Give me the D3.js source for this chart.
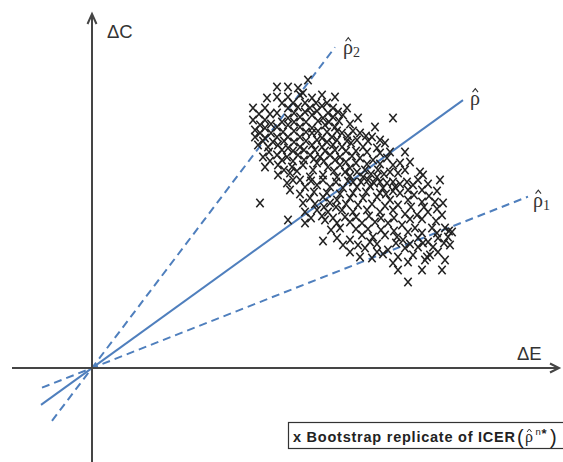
<!DOCTYPE html>
<html>
<head>
<meta charset="utf-8">
<script src="https://cdn.jsdelivr.net/npm/d3@7"></script>
<style>
  html, body { margin: 0; padding: 0; background: #fff; }
  svg { display: block; }
</style>
</head>
<body>
<script>
// Incremental effect (ΔE) of each bootstrap replicate, in plot units
const bootE = [
  216,185,196,206,175,185,196,208,220,230,243,211,
  161,173,185,196,206,218,241,255,230,
  161,173,196,208,220,231,241,251,266,301,
  163,173,185,196,208,220,233,243,283,
  163,173,185,196,208,220,230,240,250,256,268,280,
  166,176,186,196,208,220,230,241,250,259,271,285,293,298,313,
  171,185,195,206,218,228,238,248,260,268,281,295,308,318,
  173,186,200,211,225,236,248,258,273,286,298,306,328,
  186,198,218,231,245,258,271,285,331,348,
  261,276,288,301,315,326,
  195,208,213,225,238,251,265,278,291,303,
  288,301,316,330,345,
  198,208,218,231,245,258,271,285,298,316,330,343,351,
  168,211,238,
  213,225,236,250,261,275,288,301,313,325,336,350,
  196,213,233,245,258,270,283,296,310,323,340,353,360,248,
  231,245,258,270,281,293,305,311,326,336,346,356,
  258,266,273,285,285,296,313,326,338,346,358,
  268,291,301,316,335,306,330,350,316,
  190,201,213,224,235,
  167,178,202,213,225,236,246,
  168,179,190,202,214,226,237,247,258,
  168,179,191,202,214,226,235,245,261,274,
  171,181,192,202,214,225,235,245,255,265,276,288,
  177,190,201,212,223,233,243,254,264,275,288,
  178,190,201,212,222,232,243,254,264,275,288,301,
  192,205,221,242,253,265,279,292,313,
  201,219,231,244,256,269,282,295,308,321,336,
  222,235,248,261,274,294,308,322,337,
  223,232,244,254,266,280,293,306,319,332,345,
  219,230,241,253,264,277,289,302,318,330,344,
  239,264,276,289,302,316,330,345,357,
  251,278,304,318,331,341,352,
  280,306,321,333,353
];
// Incremental cost (ΔC) of each bootstrap replicate, same order
const bootC = [
  288,281,281,280,270,271,271,273,270,273,271,275,
  260,260,255,260,261,260,260,260,262,
  248,248,250,251,253,250,251,253,250,250,
  238,240,241,243,241,240,243,241,241,
  231,230,231,231,231,235,230,231,235,232,235,231,
  223,221,223,220,221,223,221,223,221,225,221,220,225,216,216,
  211,213,211,213,213,211,213,211,212,210,208,210,205,206,
  201,203,201,203,205,201,203,200,198,198,196,195,196,
  193,195,191,193,191,192,191,191,193,188,
  186,188,186,186,186,188,
  185,188,181,183,181,180,181,182,180,181,
  175,177,178,178,177,
  178,174,170,171,168,170,170,171,168,168,166,166,165,
  165,165,165,
  156,158,156,158,156,158,156,158,154,153,156,153,
  148,145,148,145,146,145,146,145,143,140,140,140,136,140,
  127,130,128,133,131,133,131,128,130,126,130,131,
  116,123,120,124,116,118,120,121,113,116,123,
  111,114,105,106,111,98,98,98,86,
  265,265,265,265,265,
  254,254,255,256,257,255,256,
  243,244,246,246,246,247,246,247,244,
  235,235,236,237,236,237,236,237,237,232,
  227,226,227,226,227,228,226,228,227,228,227,228,
  216,218,217,218,218,217,218,217,217,216,215,
  207,208,207,208,209,207,208,206,205,204,204,203,
  198,197,198,197,196,196,194,194,198,
  188,187,188,186,187,186,185,185,184,183,184,
  176,175,174,175,176,174,175,173,172,
  164,161,161,164,163,164,162,163,161,161,159,
  150,152,150,151,151,152,150,150,149,149,147,
  138,139,139,138,137,136,135,135,137,
  123,126,125,124,125,121,125,
  110,111,113,108,108
];

// ICER slopes (ΔC / ΔE) of the point estimate and its interval bounds
const rhoNames  = ["rho1", "rho", "rho2"];
const rhoSubs   = ["1", "", "2"];
const rhoSlopes = [0.393, 0.722, 1.32];
const rhoFromE  = [-50, -51, -40];
const rhoToE    = [436, 371, 243];
const rhoDashed = [true, false, true];

const W = 563, H = 462;
const x = d3.scaleLinear().domain([-80, 470]).range([12, 562]);
const y = d3.scaleLinear().domain([-94, 355]).range([462, 13]);

const svg = d3.select("body").append("svg")
  .attr("width", W).attr("height", H);

const axisColor = "#454545";
const lineColor = "#4f7fbd";
const textColor = "#333";

// ICER rays through the origin
const rays = svg.append("g");
rhoNames.forEach((name, i) => {
  rays.append("line")
    .attr("x1", x(rhoFromE[i])).attr("y1", y(rhoFromE[i] * rhoSlopes[i]))
    .attr("x2", x(rhoToE[i])).attr("y2", y(rhoToE[i] * rhoSlopes[i]))
    .attr("stroke", lineColor)
    .attr("stroke-width", 2)
    .attr("stroke-dasharray", rhoDashed[i] ? "8,5" : null);
});

// Cost-effectiveness plane axes with arrow heads
const axes = svg.append("g").attr("stroke", axisColor).attr("stroke-width", 2).attr("fill", "none");
axes.append("line").attr("x1", x(-80)).attr("x2", x(467)).attr("y1", y(0)).attr("y2", y(0));
axes.append("line").attr("x1", x(0)).attr("x2", x(0)).attr("y1", y(-94)).attr("y2", y(354));
axes.append("path")
  .attr("d", `M${x(458)},${y(0) - 4.5} L${x(467)},${y(0)} L${x(458)},${y(0) + 4.5}`);
axes.append("path")
  .attr("d", `M${x(0) - 4.5},${y(344)} L${x(0)},${y(354)} L${x(0) + 4.5},${y(344)}`);

// Bootstrap replicates drawn as x marks
const marks = svg.append("g").attr("stroke", "#222").attr("stroke-width", 1.55).attr("fill", "none");
const pts = bootE.map((e, i) => [e, bootC[i]]);
marks.selectAll("path").data(pts).join("path")
  .attr("d", d => {
    const cx = x(d[0]), cy = y(d[1]);
    return `M${cx - 3.7},${cy - 4.3} L${cx + 3.7},${cy + 4.3} M${cx + 3.7},${cy - 4.3} L${cx - 3.7},${cy + 4.3}`;
  });

// Axis titles
svg.append("text").attr("x", x(15)).attr("y", y(330))
  .attr("font-family", "Liberation Sans, Arial, sans-serif").attr("font-size", 18.5).attr("fill", textColor)
  .text("ΔC");
svg.append("text").attr("x", x(425)).attr("y", y(8))
  .attr("font-family", "Liberation Sans, Arial, sans-serif").attr("font-size", 18.5).attr("fill", textColor)
  .text("ΔE");

// Small circumflex accent drawn over a glyph
function hat(g, cx, cy, w, h, sw) {
  g.append("path")
    .attr("d", `M${cx - w / 2},${cy} L${cx},${cy - h} L${cx + w / 2},${cy}`)
    .attr("fill", "none").attr("stroke", textColor).attr("stroke-width", sw);
}

// Ray labels: ρ with a hat and an optional subscript
function rhoLabel(px, py, sub) {
  const g = svg.append("g").attr("fill", textColor)
    .attr("font-family", "Liberation Serif, Times New Roman, serif");
  const t = g.append("text").attr("x", px).attr("y", py).attr("font-size", 20);
  t.append("tspan").text("ρ");
  if (sub) t.append("tspan").attr("font-size", 14).attr("dy", 3).text(sub);
  hat(g, px + 5.3, py - 13, 5.5, 3.5, 1.1);
}
rhoNames.forEach((name, i) => {
  const ex = x(rhoToE[i]), ey = y(rhoToE[i] * rhoSlopes[i]);
  const off = [[5, 10], [7, 5], [8, 7]][i];
  rhoLabel(ex + off[0], ey + off[1], rhoSubs[i]);
});

// Legend
const lg = svg.append("g");
lg.append("rect").attr("x", 288.5).attr("y", 422.5).attr("width", 285).attr("height", 26)
  .attr("fill", "#fff").attr("stroke", "#333").attr("stroke-width", 1.2);
lg.append("text").attr("x", 293).attr("y", 442)
  .attr("font-family", "Liberation Sans, Arial, sans-serif").attr("font-weight", "bold")
  .attr("font-size", 14.5).attr("fill", "#222")
  .attr("textLength", 222).attr("lengthAdjust", "spacing")
  .text("x Bootstrap replicate of ICER");
lg.append("text").attr("x", 517).attr("y", 444)
  .attr("font-family", "Liberation Sans, Arial, sans-serif").attr("font-size", 20).attr("fill", "#222")
  .text("(");
lg.append("text").attr("x", 525).attr("y", 442)
  .attr("font-family", "Liberation Serif, serif").attr("font-size", 16).attr("fill", "#222")
  .text("ρ");
hat(lg, 529.3, 432, 4.5, 3, 1);
lg.append("text").attr("x", 535.5).attr("y", 435)
  .attr("font-family", "Liberation Sans, Arial, sans-serif").attr("font-size", 9.5).attr("fill", "#222")
  .text("n");
lg.append("text").attr("x", 541.5).attr("y", 438)
  .attr("font-family", "Liberation Sans, Arial, sans-serif").attr("font-weight", "bold").attr("font-size", 13).attr("fill", "#222")
  .text("*");
lg.append("text").attr("x", 550).attr("y", 444)
  .attr("font-family", "Liberation Sans, Arial, sans-serif").attr("font-size", 20).attr("fill", "#222")
  .text(")");
</script>
</body>
</html>
